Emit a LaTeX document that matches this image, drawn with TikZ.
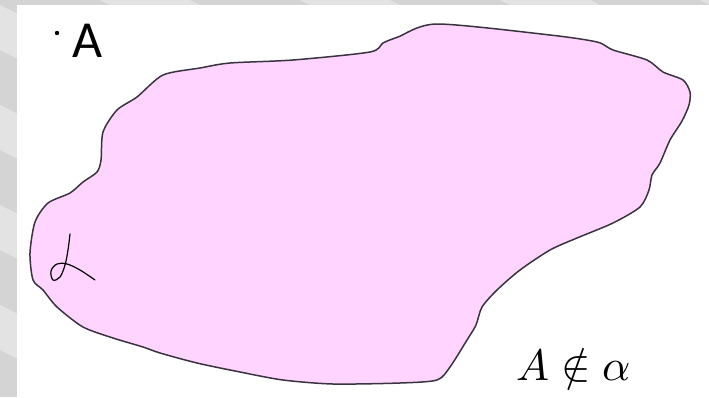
\documentclass[tikz,border=0pt]{standalone}
\usepackage{fontspec}
\usepackage{unicode-math}
\setmathfont{Latin Modern Math}
\newfontfamily\carlito{Carlito}
\definecolor{bgdark}{HTML}{D4D4D4}
\definecolor{bglight}{HTML}{E3E3E3}
\definecolor{blobfill}{HTML}{FFD4FF}
\definecolor{blobline}{HTML}{3A3340}
\tikzset{
  blob/.style={fill=blobfill, draw=blobline, line width=1.5pt, line join=round},
  hand/.style={draw=black, line width=1.2pt, line cap=round, line join=round},
  lbl/.style={inner sep=0pt, anchor=base west}
}
\begin{document}
\begin{tikzpicture}[x=1pt,y=-1pt]
\useasboundingbox (0,0) rectangle (709,397);
% slide background with diagonal stripes
\fill[bgdark] (0,0) rectangle (709,397);
\begin{scope}
  \clip (0,0) rectangle (709,397);
  \foreach \s in {-900,-700,...,800} {
    \fill[bglight] (\s,0) -- (\s+90,0) -- (\s+90+800,400) -- (\s+800,400) -- cycle;
  }
\end{scope}
\fill[white] (17,5) rectangle (730,420);
% plane alpha
\draw[blob] plot[smooth cycle, tension=0.45] coordinates {
 (163,75) (200,68) (230,63) (293,60) (370,52) (383,43) (398,37) (437,24)
 (550,35) (597,42) (613,50) (647,60) (663,72) (683,80) (690,92) (689,105)
 (682,121) (670,140) (660,163) (652,175) (649,190) (640,207) (613,223)
 (577,238) (550,250) (520,270) (497,290) (482,307) (476,325) (467,340)
 (450,367) (437,380) (400,383) (333,384) (283,380) (240,372) (197,363)
 (160,353) (143,347) (113,338) (83,327) (57,307) (43,290) (33,280)
 (30,253) (35,222) (48,203) (70,193) (83,182) (97,172) (101,160)
 (103,132) (117,110) (137,97)};
% handwritten alpha
\draw[hand] plot[smooth, tension=0.6] coordinates {
 (70,234) (68,250) (65,265) (60,277) (53,280) (51,271) (57,264) (67,264) (80,270) (95,280)};
% point A
\coordinate (ptA) at (57,33);
\fill (ptA) circle (2.2);
\node[lbl, font=\carlito\fontsize{52}{60}\selectfont] (labelA) at (72,57) {A};
% relation
\node[lbl, font=\fontsize{44}{50}\selectfont] (rel) at (516,380) {$A ∉ α$};
\end{tikzpicture}
\end{document}
